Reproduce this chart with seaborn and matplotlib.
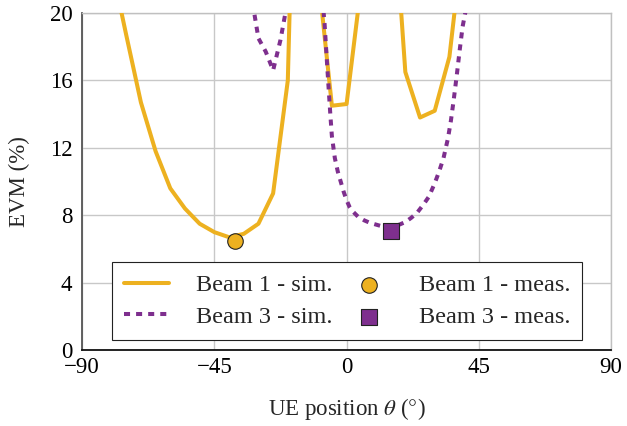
import matplotlib
matplotlib.use("Agg")
import matplotlib.pyplot as plt
import seaborn as sns
import pandas as pd
import numpy as np

# ---- data ----
beam1_theta = [-80, -75, -70, -65, -60, -55, -50, -45, -40, -35, -30, -25, -20,
               -15, -10, -5, 0, 5, 10, 15, 20, 25, 30, 35, 40]
beam1_evm = [22.8, 18.7, 14.7, 11.8, 9.6, 8.4, 7.5, 7.0, 6.7, 6.9, 7.5, 9.3, 16.0,
             49.0, 22.8, 14.5, 14.6, 21.7, 30.0, 29.0, 16.5, 13.8, 14.2, 17.4, 25.0]

beam3_theta = [-32, -30, -27.5, -25, -22.5, -20.5, -18, -12, -8.5, -7.5, -6.5, -5.5,
               -5, -4, -3, -2, -1, 0, 1, 2, 4, 6, 8, 10, 12, 14, 16, 18, 20, 22,
               24, 26, 28, 30, 31.5, 33, 34.5, 35.5, 36.5, 37.5, 38.5, 39.5, 40.5, 42]
beam3_evm = [20.6, 18.5, 17.7, 16.6, 18.4, 20.3, 30.0, 30.0, 21.4, 19.4, 16.6, 13.9,
             12.7, 11.4, 10.6, 10.0, 9.4, 8.9, 8.5, 8.25, 7.9, 7.7, 7.55, 7.45, 7.35,
             7.3, 7.35, 7.45, 7.6, 7.85, 8.15, 8.6, 9.1, 9.9, 10.6, 11.4, 12.56, 13.6,
             14.9, 16.3, 17.8, 19.2, 20.1, 23.0]

meas_theta = [-38, 15]
meas_evm = [6.5, 7.08]

labels = ["Beam 1 - sim.", "Beam 3 - sim.", "Beam 1 - meas.", "Beam 3 - meas."]
x_ticks = [-90, -45, 0, 45, 90]
y_ticks = [0, 4, 8, 12, 16, 20]
xlabel = r"UE position $\theta$ ($\degree$)"
ylabel = "EVM (%)"

yellow = "#EDB120"
purple = "#7E2F8E"

FS = 16.5
LFS = 17.5

# ---- style ----
sns.set_style("white")
plt.rcParams["font.family"] = ["Liberation Serif", "DejaVu Serif"]
plt.rcParams["mathtext.fontset"] = "stix"
plt.rcParams["font.size"] = FS

fig = plt.figure(figsize=(6.27, 4.26), dpi=100)
ax = fig.add_axes([0.131, 0.178, 0.8435, 0.7915])

df1 = pd.DataFrame({"theta": beam1_theta, "evm": beam1_evm})
df3 = pd.DataFrame({"theta": beam3_theta, "evm": beam3_evm})

sns.lineplot(data=df1, x="theta", y="evm", color=yellow, lw=2.9, ax=ax,
             label=labels[0], zorder=3)
sns.lineplot(data=df3, x="theta", y="evm", color=purple, lw=2.9, ax=ax,
             label=labels[1], linestyle=(0, (1.5, 1.5)), zorder=3)
sns.scatterplot(x=[meas_theta[0]], y=[meas_evm[0]], marker="o", s=125,
                color=yellow, edgecolor="#222222", linewidth=0.8, ax=ax,
                label=labels[2], zorder=5, clip_on=False)
sns.scatterplot(x=[meas_theta[1]], y=[meas_evm[1]], marker="s", s=120,
                color=purple, edgecolor="#222222", linewidth=0.8, ax=ax,
                label=labels[3], zorder=5, clip_on=False)

ax.set_xlim(-90, 90)
ax.set_ylim(0, 20)
ax.set_xticks(x_ticks)
ax.set_yticks(y_ticks)
ax.set_xticklabels([f"{t}".replace("-", "\u2212") for t in x_ticks])
ax.set_yticklabels([f"{t}" for t in y_ticks])
ax.grid(True, color="#c8c8c8", linewidth=1.0)
ax.set_axisbelow(True)

for s in ["top", "right"]:
    ax.spines[s].set_color("#c0c0c0")
    ax.spines[s].set_linewidth(1.0)
ax.spines["left"].set_color("#555555")
ax.spines["left"].set_linewidth(1.3)
ax.spines["bottom"].set_color("#111111")
ax.spines["bottom"].set_linewidth(1.3)

ax.tick_params(axis="both", direction="in", length=4, color="#777777",
               labelsize=FS, labelcolor="black")
ax.tick_params(axis="y", pad=7)
ax.tick_params(axis="x", pad=5)

ax.set_xlabel(xlabel, fontsize=FS, labelpad=13)
ax.set_ylabel(ylabel, fontsize=FS, labelpad=14)

h, l = ax.get_legend_handles_labels()
hd = dict(zip(l, h))
leg = ax.legend([hd[k] for k in labels], labels, ncol=2,
                loc="lower center", bbox_to_anchor=(0.501, 0.03),
                frameon=True, fancybox=False, framealpha=1,
                edgecolor="#222222", handlelength=1.85, fontsize=LFS,
                borderpad=0.5, labelspacing=0.4, columnspacing=0.6,
                handletextpad=1.1, borderaxespad=0)
leg.get_frame().set_linewidth(0.8)

fig.savefig("out.png", dpi=100)
